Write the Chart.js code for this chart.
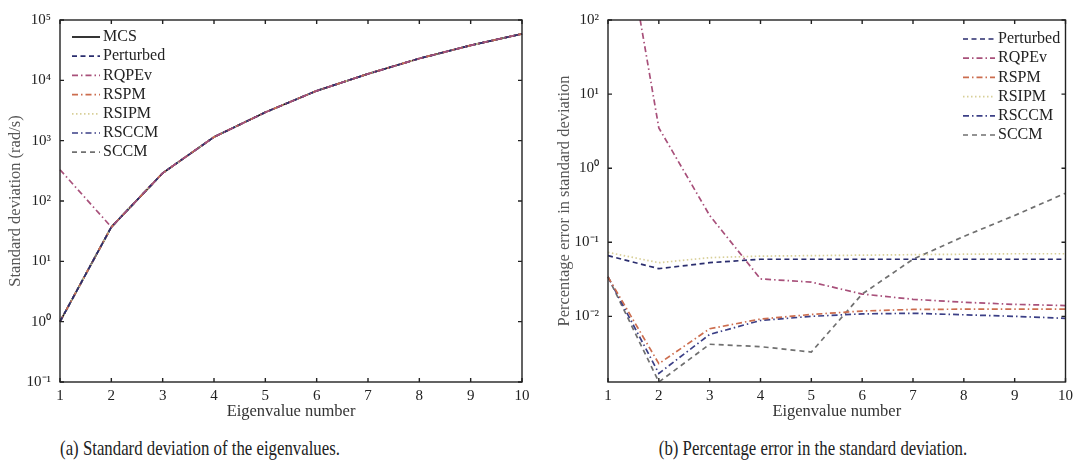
<!DOCTYPE html>
<html>
<head>
<meta charset="utf-8">
<script src="https://cdn.jsdelivr.net/npm/chart.js@4.4.1/dist/chart.umd.min.js"></script>
<style>
body { margin: 0; background: #fff; width: 1078px; height: 465px; overflow: hidden; position: relative; font-family: "Liberation Serif", serif; }
#leftBox { position: absolute; left: 0; top: 0; width: 540px; height: 430px; }
#rightBox { position: absolute; left: 540px; top: 0; width: 538px; height: 430px; }
.cap { position: absolute; top: 436px; font-size: 21px; color: #222; white-space: nowrap; transform: translateX(-50%) scaleX(0.8); }
</style>
</head>
<body>
<div id="leftBox"><canvas id="stdC"></canvas></div>
<div id="rightBox"><canvas id="errC"></canvas></div>
<div class="cap" style="left:200px">(a) Standard deviation of the eigenvalues.</div>
<div class="cap" style="left:813px">(b) Percentage error in the standard deviation.</div>
<script>
// eigenvalue numbers (x axis)
const eigenNumbers = ['1', '2', '3', '4', '5', '6', '7', '8', '9', '10'];

// (a) standard deviation of the eigenvalues (rad/s)
const stdMCS       = [1.0, 37, 290, 1150, 2950, 6700, 12800, 23000, 38000, 59000];
const stdPerturbed = [1.0, 37, 290, 1150, 2950, 6700, 12800, 23000, 38000, 59000];
const stdRQPEv     = [330, 37, 290, 1150, 2950, 6700, 12800, 23000, 38000, 59000];
const stdRSPM      = [1.0, 37, 290, 1150, 2950, 6700, 12800, 23000, 38000, 59000];
const stdRSIPM     = [1.0, 37, 290, 1150, 2950, 6700, 12800, 23000, 38000, 59000];
const stdRSCCM     = [1.0, 37, 290, 1150, 2950, 6700, 12800, 23000, 38000, 59000];
const stdSCCM      = [1.0, 37, 290, 1150, 2950, 6700, 12800, 23000, 38000, 59000];

// (b) percentage error in the standard deviation
const errPerturbed = [0.066, 0.044, 0.053, 0.059, 0.059, 0.059, 0.059, 0.059, 0.059, 0.059];
const errRQPEv     = [33000, 3.5, 0.23, 0.032, 0.029, 0.020, 0.017, 0.0155, 0.0145, 0.014];
const errRSPM      = [0.034, 0.0023, 0.0068, 0.0092, 0.0106, 0.0118, 0.0124, 0.0125, 0.0125, 0.0125];
const errRSIPM     = [0.073, 0.053, 0.062, 0.065, 0.066, 0.067, 0.068, 0.069, 0.070, 0.070];
const errRSCCM     = [0.034, 0.0017, 0.0057, 0.0088, 0.0100, 0.0108, 0.0110, 0.0105, 0.0100, 0.0094];
const errSCCM      = [0.034, 0.0013, 0.0042, 0.0039, 0.0033, 0.020, 0.059, 0.12, 0.23, 0.46];

const serif = '"Liberation Serif", "Times New Roman", serif';
const sup = { '-': '\u207B', '0': '\u2070', '1': '\u00B9', '2': '\u00B2', '3': '\u00B3', '4': '\u2074', '5': '\u2075' };
function powLabel(v) {
	const e = Math.round(Math.log10(v));
	return '10' + String(e).split('').map(c => sup[c]).join('');
}

// matlab-ish box with inward ticks
const boxFrame = {
	id: 'boxFrame',
	afterDatasetsDraw(chart) {
		const { ctx, chartArea: a, scales: { x, y } } = chart;
		ctx.save();
		ctx.strokeStyle = '#222';
		ctx.lineWidth = 1.4;
		ctx.strokeRect(a.left, a.top, a.width, a.height);
		ctx.beginPath();
		x.ticks.forEach((t, i) => {
			const px = x.getPixelForTick(i);
			ctx.moveTo(px, a.bottom); ctx.lineTo(px, a.bottom - 4);
			ctx.moveTo(px, a.top); ctx.lineTo(px, a.top + 4);
		});
		y.ticks.forEach((t, i) => {
			const py = y.getPixelForTick(i);
			ctx.moveTo(a.left, py); ctx.lineTo(a.left + 4, py);
			ctx.moveTo(a.right, py); ctx.lineTo(a.right - 4, py);
		});
		ctx.stroke();
		ctx.restore();
	}
};

// legend drawn inside the plot area
const insideLegend = {
	id: 'insideLegend',
	afterDraw(chart, args, o) {
		const ctx = chart.ctx;
		ctx.save();
		ctx.font = '16px ' + serif;
		ctx.textBaseline = 'middle';
		chart.data.datasets.forEach((ds, i) => {
			const y = o.y + i * o.rowH;
			ctx.strokeStyle = ds.borderColor;
			ctx.lineWidth = ds.borderWidth;
			ctx.setLineDash(ds.borderDash || []);
			ctx.beginPath();
			ctx.moveTo(o.x, y);
			ctx.lineTo(o.x + o.len, y);
			ctx.stroke();
			ctx.setLineDash([]);
			ctx.fillStyle = '#222';
			ctx.fillText(ds.label, o.x + o.len + 3, y);
		});
		ctx.restore();
	}
};

const styles = {
	MCS:       { borderColor: '#111111', borderDash: [] },
	Perturbed: { borderColor: '#2a2d6e', borderDash: [5, 3.5] },
	RQPEv:     { borderColor: '#a8507a', borderDash: [6, 3, 1.5, 3] },
	RSPM:      { borderColor: '#cc6d4e', borderDash: [6, 3, 1.5, 3] },
	RSIPM:     { borderColor: '#d8cf98', borderDash: [1.5, 2.5] },
	RSCCM:     { borderColor: '#3b3f86', borderDash: [6, 3, 1.5, 3] },
	SCCM:      { borderColor: '#707070', borderDash: [5, 4] }
};

function line(label, data, order) {
	return Object.assign({
		label, data,
		borderWidth: 1.7,
		pointRadius: 0,
		tension: 0,
		fill: false,
		order: order || 0
	}, styles[label]);
}

function opts(yMin, yMax, yTitle, yWidth, yTitlePad, rightPad, legend) {
	return {
		responsive: true,
		maintainAspectRatio: false,
		animation: false,
		layout: { padding: { left: 0, right: rightPad, top: 20, bottom: 0 } },
		plugins: {
			legend: { display: false },
			tooltip: { enabled: false },
			insideLegend: legend
		},
		scales: {
			x: {
				grid: { display: false, drawTicks: false },
				border: { display: false },
				ticks: { color: '#222', padding: 5, maxRotation: 0, font: { family: serif, size: 15 } },
				title: { display: true, text: 'Eigenvalue number', color: '#333', padding: { top: 0, bottom: 8 }, font: { family: serif, size: 16.5 } },
				afterFit: s => { s.height = 48; }
			},
			y: {
				type: 'logarithmic',
				min: yMin,
				max: yMax,
				bounds: 'data',
				grid: { display: false, drawTicks: false },
				border: { display: false },
				ticks: { color: '#222', padding: 9, font: { family: serif, size: 15 }, callback: v => powLabel(v) },
				afterBuildTicks: s => {
					const t = [];
					for (let e = Math.ceil(Math.log10(yMin) - 1e-9); e <= Math.floor(Math.log10(yMax) + 1e-9); e++) t.push({ value: Math.pow(10, e) });
					s.ticks = t;
				},
				title: { display: true, text: yTitle, color: '#555', padding: { top: yTitlePad, bottom: 0 }, font: { family: serif, size: 16.5 } },
				afterFit: s => { s.width = yWidth; }
			}
		}
	};
}

var stdChart = new Chart(document.getElementById('stdC'), {
	type: 'line',
	data: {
		labels: eigenNumbers,
		datasets: [
			line('MCS', stdMCS, 2),
			line('Perturbed', stdPerturbed),
			line('RQPEv', stdRQPEv, -1),
			line('RSPM', stdRSPM),
			line('RSIPM', stdRSIPM),
			line('RSCCM', stdRSCCM),
			line('SCCM', stdSCCM)
		]
	},
	options: opts(0.1, 1e5, 'Standard deviation (rad/s)', 60, 6, 18, { x: 72, y: 37, len: 28, rowH: 19.2 }),
	plugins: [boxFrame, insideLegend]
});

var errChart = new Chart(document.getElementById('errC'), {
	type: 'line',
	data: {
		labels: eigenNumbers,
		datasets: [
			line('Perturbed', errPerturbed),
			line('RQPEv', errRQPEv),
			line('RSPM', errRSPM),
			line('RSIPM', errRSIPM),
			line('RSCCM', errRSCCM),
			line('SCCM', errSCCM)
		]
	},
	options: opts(0.0013, 100, 'Percentage error in standard deviation', 68, 15, 9, { x: 423, y: 39, len: 32, rowH: 19.2 }),
	plugins: [boxFrame, insideLegend]
});
</script>
</body>
</html>
